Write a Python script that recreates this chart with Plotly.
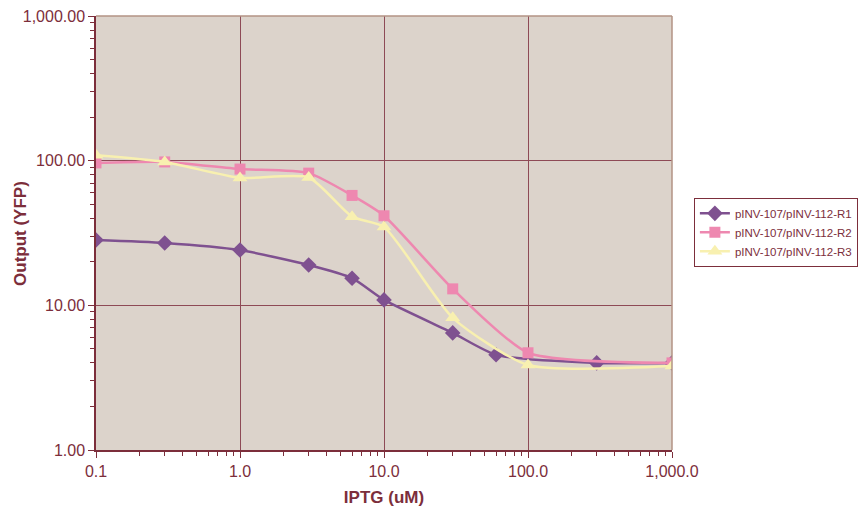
import plotly.graph_objects as go

# IPTG concentrations (uM) and YFP output for each replicate
iptg_r1 = [0.1, 0.3, 1, 3, 6, 10, 30, 60, 300, 1000]
yfp_r1 = [28.3, 27.0, 24.1, 19.0, 15.4, 10.9, 6.45, 4.55, 4.0, 4.0]

iptg_r2 = [0.1, 0.3, 1, 3, 6, 10, 30, 100, 1000]
yfp_r2 = [96.5, 98.0, 87.5, 82.0, 57.5, 41.6, 13.0, 4.7, 4.0]

iptg_r3 = [0.1, 0.3, 1, 3, 6, 10, 30, 100, 1000]
yfp_r3 = [109.0, 98.0, 76.0, 76.5, 41.0, 34.8, 8.2, 3.87, 3.8]

names = ["pINV-107/pINV-112-R1", "pINV-107/pINV-112-R2", "pINV-107/pINV-112-R3"]
colors = ["#7F5190", "#EE88B0", "#F8F0B0"]
symbols = ["diamond", "square", "triangle-up"]
sizes = [12, 11, 13]

maroon = "#7C2E3B"
grid = "#8E4A56"

fig = go.Figure()
for xs, ys, name, c, s, sz in zip([iptg_r1, iptg_r2, iptg_r3],
                                  [yfp_r1, yfp_r2, yfp_r3],
                                  names, colors, symbols, sizes):
    fig.add_trace(go.Scatter(
        x=xs, y=ys, name=name, mode="lines+markers",
        line=dict(color=c, width=2.5, shape="spline", smoothing=0.6),
        marker=dict(symbol=s, size=sz, color=c),
    ))

tick_font = dict(family="Liberation Sans, Arial, sans-serif", size=16, color=maroon)

fig.update_layout(
    width=860, height=514,
    margin=dict(l=96, r=188, t=16, b=64, autoexpand=False),
    paper_bgcolor="white",
    plot_bgcolor="#DCD3CB",
    font=dict(family="Liberation Sans, Arial, sans-serif", color=maroon),
    showlegend=True,
    legend=dict(
        x=1.038, y=0.581, xanchor="left", yanchor="top",
        bgcolor="white", bordercolor=maroon, borderwidth=1,
        font=dict(size=11.5, color=maroon),
        tracegroupgap=0, itemwidth=30,
    ),
    xaxis=dict(
        type="log", range=[-1, 3], dtick=1,
        tickformat=",.1f", tickfont=tick_font,
        showgrid=True, gridcolor=grid, gridwidth=1,
        showline=True, linecolor=maroon, linewidth=1.5,
        ticks="outside", ticklen=6, tickcolor=maroon,
        minor=dict(ticks="outside", ticklen=4, tickcolor=maroon, dtick="D1", showgrid=False),
        zeroline=False,
        title=dict(text="<b>IPTG (uM)</b>", font=dict(size=17, color=maroon), standoff=12),
    ),
    yaxis=dict(
        type="log", range=[0, 3], dtick=1,
        tickformat=",.2f", tickfont=tick_font,
        showgrid=True, gridcolor=grid, gridwidth=1,
        showline=True, linecolor=maroon, linewidth=1.5,
        ticks="outside", ticklen=6, tickcolor=maroon,
        minor=dict(ticks="outside", ticklen=4, tickcolor=maroon, dtick="D1", showgrid=False),
        zeroline=False,
    ),
)

# vertical axis title, set close to the tick labels
fig.add_annotation(
    text="<b>Output (YFP)</b>", textangle=-90, showarrow=False,
    xref="paper", yref="paper", x=-0.132, y=0.5,
    xanchor="center", yanchor="middle",
    font=dict(size=17, color=maroon),
)

# light frame along the top and right edges of the plotting area
fig.add_shape(type="line", xref="paper", yref="paper", x0=0, x1=1, y0=1, y1=1,
              line=dict(color="#B39384", width=1.5))
fig.add_shape(type="line", xref="paper", yref="paper", x0=1, x1=1, y0=0, y1=1,
              line=dict(color="#B39384", width=1.5))

fig.write_html("out.html")
